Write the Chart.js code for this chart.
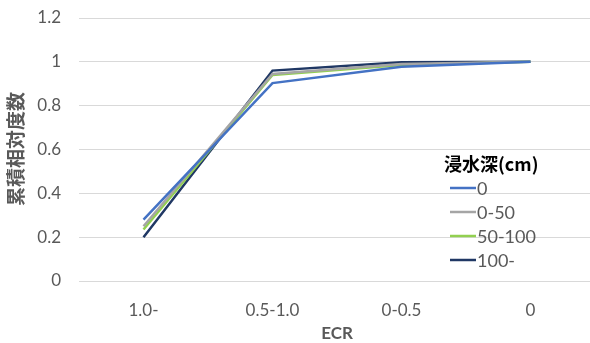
<!DOCTYPE html>
<html>
<head>
<meta charset="utf-8">
<script src="https://cdn.jsdelivr.net/npm/chart.js@4/dist/chart.umd.min.js"></script>
<style>
  html, body { margin: 0; padding: 0; background: #fff; overflow: hidden; }
  #wrap { width: 600px; height: 343px; }
</style>
</head>
<body>
<div id="wrap"><canvas id="c" width="600" height="343"></canvas></div>
<script>
const categories = ['1.0-', '0.5-1.0', '0-0.5', '0'];
const depth0     = [0.28, 0.903, 0.978, 1.0];
const depth0to50 = [0.25, 0.945, 0.99, 1.0];
const depth50to100 = [0.235, 0.94, 0.986, 1.0];
const depth100up = [0.20, 0.96, 0.998, 1.0];
const seriesNames = ['0', '0-50', '50-100', '100-'];
const yTicks = [0, 0.2, 0.4, 0.6, 0.8, 1, 1.2];

const latin = 'Lato, "Noto Sans CJK JP", sans-serif';
const cjk = '"Noto Sans CJK JP", Lato, sans-serif';
const textColor = '#595959';

// axis titles and the in-plot legend
const annotate = {
  id: 'annotate',
  afterDraw(chart) {
    const ctx = chart.ctx;
    ctx.save();
    ctx.fillStyle = textColor;
    // y title
    ctx.font = 'bold 19px ' + cjk;
    ctx.textAlign = 'center';
    ctx.textBaseline = 'middle';
    ctx.translate(16, 149);
    ctx.rotate(-Math.PI / 2);
    ctx.fillText('累積相対度数', 0, 0);
    ctx.setTransform(1, 0, 0, 1, 0, 0);
    // x title
    ctx.font = 'bold 17px ' + latin;
    ctx.fillText('ECR', 337, 334);
    // legend
    const lx = 446, ly = 164;
    ctx.fillStyle = '#000';
    ctx.textAlign = 'left';
    ctx.font = 'bold 18px ' + cjk;
    ctx.fillText('浸水深(cm)', 444, ly);
    ctx.font = '18px ' + latin;
    chart.data.datasets.forEach((ds, i) => {
      const y = ly + 24 * (i + 1);
      ctx.strokeStyle = ds.borderColor;
      ctx.lineWidth = 2.5;
      ctx.beginPath();
      ctx.moveTo(lx + 4, y);
      ctx.lineTo(lx + 30, y);
      ctx.stroke();
      ctx.fillStyle = textColor;
      ctx.fillText(ds.label, lx + 31, y + 1);
    });
    ctx.restore();
  }
};

const colors = ['#4472C4', '#A5A5A5', '#92D050', '#203864'];
const values = [depth0, depth0to50, depth50to100, depth100up];

new Chart(document.getElementById('c'), {
  type: 'line',
  data: {
    labels: categories,
    datasets: values.map((v, i) => ({
      label: seriesNames[i],
      data: v,
      borderColor: colors[i],
      backgroundColor: colors[i],
      borderWidth: 2.5,
      pointRadius: 0,
      tension: 0,
      fill: false
    }))
  },
  options: {
    responsive: false,
    animation: false,
    events: [],
    layout: { autoPadding: false, padding: { top: 18, right: 5, left: 0, bottom: 0 } },
    plugins: { legend: { display: false }, tooltip: { enabled: false } },
    scales: {
      x: {
        offset: true,
        grid: { display: false, drawTicks: false },
        border: { display: false },
        ticks: { color: textColor, font: { family: latin, size: 17 }, padding: 19 },
        afterFit(s) { s.height = 62; s.paddingLeft = 0; s.paddingRight = 0; }
      },
      y: {
        min: 0, max: 1.2,
        afterBuildTicks(s) { s.ticks = yTicks.map(v => ({ value: v })); },
        grid: { color: '#D9D9D9', lineWidth: 1, drawTicks: false },
        border: { display: false },
        ticks: { color: textColor, font: { family: latin, size: 17 }, padding: 18,
                 callback: v => String(v) },
        afterFit(s) { s.width = 79; s.paddingTop = 0; s.paddingBottom = 0; }
      }
    }
  },
  plugins: [annotate]
});
</script>
</body>
</html>
